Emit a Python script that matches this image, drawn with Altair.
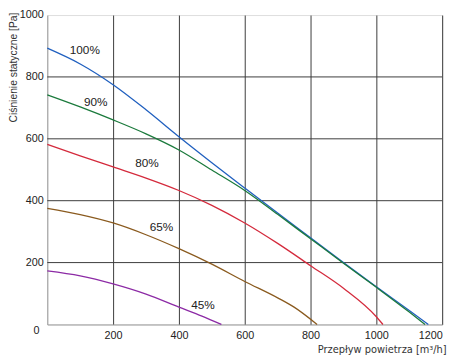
import altair as alt
import pandas as pd

# Data
x_100 = [0, 100, 200, 300, 400, 500, 600, 700, 800, 900, 1000, 1100, 1158]
y_100 = [893, 842, 775, 694, 607, 523, 441, 360, 280, 200, 122, 45, 0]
x_90 = [0, 100, 200, 300, 400, 500, 600, 700, 800, 900, 1000, 1100, 1148]
y_90 = [742, 703, 661, 616, 564, 499, 433, 356, 277, 198, 120, 40, 0]
x_80 = [0, 100, 200, 300, 400, 500, 600, 700, 800, 900, 1000, 1020]
y_80 = [582, 545, 509, 473, 433, 385, 328, 262, 190, 117, 25, 0]
x_65 = [0, 100, 200, 300, 400, 500, 600, 700, 750, 820]
y_65 = [375, 355, 328, 290, 245, 195, 139, 86, 56, 0]
x_45 = [0, 100, 200, 300, 400, 470, 529]
y_45 = [173, 157, 131, 98, 56, 27, 0]

series_names = ["100%", "90%", "80%", "65%", "45%"]
series_colors = ["#1f5fbf", "#1b7a3c", "#d42a3c", "#8a5a1e", "#8c2aa5"]
label_x = [114, 147, 303, 347, 473]
label_y = [887, 718, 520, 314, 63]

x_ticks = [200, 400, 600, 800, 1000, 1200]
y_ticks = [200, 400, 600, 800, 1000]
y_grid = [200, 400, 600, 800]

rows = []
for name, xs, ys in zip(series_names, [x_100, x_90, x_80, x_65, x_45],
                        [y_100, y_90, y_80, y_65, y_45]):
    for i, (a, b) in enumerate(zip(xs, ys)):
        rows.append({"s": name, "x": a, "y": b, "o": i})
df = pd.DataFrame(rows)
labels = pd.DataFrame({"s": series_names, "x": label_x, "y": label_y})
grid_df = pd.DataFrame({"y": y_grid})

xscale = alt.Scale(domain=[0, 1200], nice=False)
yscale = alt.Scale(domain=[0, 1000], nice=False)

xaxis = alt.Axis(values=x_ticks, format="d", grid=True, gridColor="#3a3a3a", gridWidth=1,
                 gridOpacity=1, ticks=False, domainColor="#999999",
                 labelFont="Liberation Sans", labelFontSize=11, labelColor="#222222",
                 labelPadding=5, title="Przepływ powietrza [m³/h]", titleFont="DejaVu Sans",
                 titleFontSize=10, titleFontWeight="normal", titleColor="#333333",
                 titleX=406, titleY=29, titleAlign="right", titleBaseline="alphabetic")
yaxis = alt.Axis(values=y_ticks, format="d", grid=False, ticks=False, domainColor="#999999",
                 labelFont="Liberation Sans", labelFontSize=11, labelColor="#222222",
                 labelPadding=4, title="Ciśnienie statyczne [Pa]",
                 titleFont="Liberation Sans", titleFontSize=10.5, titleFontWeight="normal",
                 titleColor="#333333", titleAngle=-90, titleX=-29, titleY=-3,
                 titleAlign="right", titleBaseline="bottom")

color = alt.Color("s:N", scale=alt.Scale(domain=series_names, range=series_colors), legend=None)

grid = alt.Chart(grid_df).mark_rule(color="#3a3a3a", strokeWidth=1).encode(
    y=alt.Y("y:Q", scale=yscale, axis=yaxis)
)

lines = alt.Chart(df).mark_line(strokeWidth=1.3, interpolate="monotone").encode(
    x=alt.X("x:Q", scale=xscale, axis=xaxis),
    y=alt.Y("y:Q", scale=yscale, axis=yaxis),
    color=color,
    detail="s:N",
    order="o:Q",
)

text = alt.Chart(labels).mark_text(font="Liberation Sans", fontSize=12, color="#222222").encode(
    x=alt.X("x:Q", scale=xscale),
    y=alt.Y("y:Q", scale=yscale),
    text="s:N",
)

zero = alt.Chart(pd.DataFrame({"x": [0], "y": [0], "t": ["0"]})).mark_text(
    font="Liberation Sans", fontSize=11, color="#222222", dx=-11, dy=7
).encode(x=alt.X("x:Q", scale=xscale), y=alt.Y("y:Q", scale=yscale), text="t:N")

chart = alt.layer(grid, lines, text, zero).properties(
    width=402, height=315,
    autosize=alt.AutoSizeParams(type="none"),
    padding={"left": 40, "top": 4, "right": 10, "bottom": 33},
).configure_view(stroke=None).configure(background="white")

chart.save("out.html", embed_options={"renderer": "svg", "actions": False})
